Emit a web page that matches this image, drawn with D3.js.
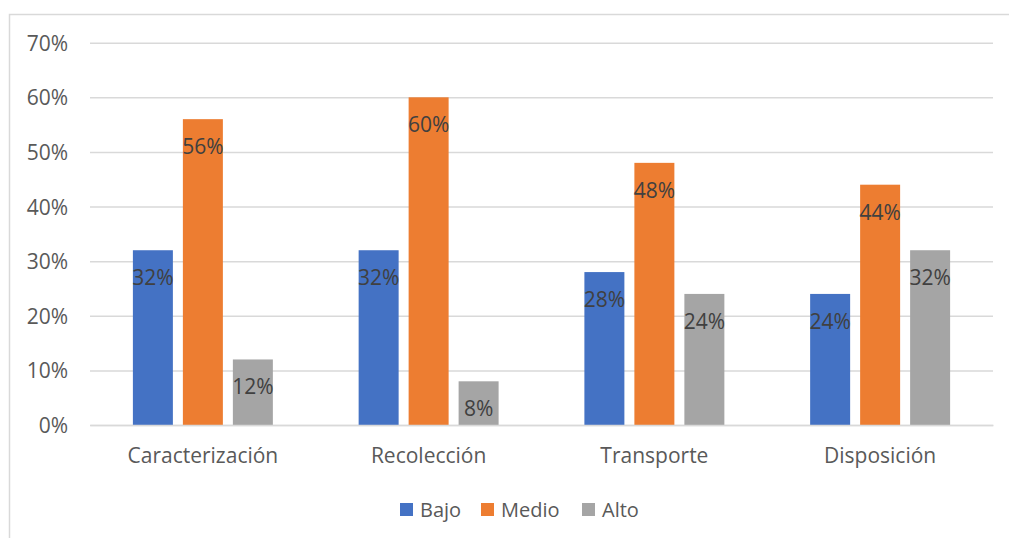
<!DOCTYPE html>
<html><head><meta charset="utf-8">
<script src="https://cdn.jsdelivr.net/npm/d3@7/dist/d3.min.js"></script>
<style>body{margin:0;background:#fff;}svg{display:block;}</style>
</head><body>
<svg id="c" width="1009" height="538"></svg>
<script>
const categories = ["Caracterización","Recolección","Transporte","Disposición"];
const seriesNames = ["Bajo","Medio","Alto"];
const bajo = [0.32,0.32,0.28,0.24];
const medio = [0.56,0.60,0.48,0.44];
const alto = [0.12,0.08,0.24,0.32];
const yTicks = [0,0.1,0.2,0.3,0.4,0.5,0.6,0.7];
const colors = ["#4472C4","#ED7D31","#A5A5A5"];
const seriesValues = [bajo, medio, alto];

(function(){
const svg = d3.select("#c");
const font = "'Open Sans', sans-serif";
svg.append("rect").attr("x",9.5).attr("y",14.5).attr("width",1100).attr("height",600)
  .attr("fill","#fff").attr("stroke","#D9D9D9").attr("stroke-width",1.5);

const pLeft=90, pRight=993, pTop=42.7, pBottom=425;
const y = d3.scaleLinear().domain([0,0.7]).range([pBottom,pTop]);
const x0 = d3.scaleBand().domain(categories).range([pLeft,pRight]).paddingInner(0.38).paddingOuter(0.19);
const x1 = d3.scaleBand().domain(seriesNames).range([0,x0.bandwidth()]).paddingInner(0.2);

const yAxis = d3.axisLeft(y).tickValues(yTicks).tickSize(-(pRight-pLeft)).tickFormat(d3.format(".0%"));
const gy = svg.append("g").attr("transform",`translate(${pLeft},0)`).call(yAxis);
gy.select(".domain").remove();
gy.selectAll(".tick line").attr("stroke","#D9D9D9").attr("stroke-width",1.5);
gy.selectAll(".tick text").attr("x",-22).attr("dy","0.36em").attr("fill","#595959").style("font-family",font).style("font-size","21px");

const data = [];
categories.forEach((c,i)=>seriesNames.forEach((s,j)=>data.push({c,s,v:seriesValues[j][i],j})));

svg.append("g").selectAll("rect").data(data).join("rect")
  .attr("x",d=>x0(d.c)+x1(d.s)).attr("width",x1.bandwidth())
  .attr("y",d=>y(d.v)).attr("height",d=>y(0)-y(d.v)).attr("fill",d=>colors[d.j]);

svg.append("g").selectAll("text").data(data).join("text")
  .attr("x",d=>x0(d.c)+x1(d.s)+x1.bandwidth()/2).attr("y",d=>y(d.v)+35)
  .attr("text-anchor","middle").attr("fill","#404040")
  .style("font-family",font).style("font-size","21px")
  .text(d=>d3.format(".0%")(d.v));

const xAxis = d3.axisBottom(x0).tickSize(0).tickPadding(0);
const gx = svg.append("g").attr("transform",`translate(0,${pBottom})`).call(xAxis);
gx.select(".domain").attr("stroke","#D9D9D9").attr("stroke-width",1.5);
gx.selectAll(".tick text").attr("y",38).attr("dy",0).attr("fill","#595959").style("font-family",font).style("font-size","21px");

const legX = [400,481,582];
const lg = svg.append("g").selectAll("g").data(seriesNames).join("g")
  .attr("transform",(d,i)=>`translate(${legX[i]},503)`);
lg.append("rect").attr("width",13).attr("height",13).attr("fill",(d,i)=>colors[i]);
lg.append("text").attr("x",20).attr("y",14).attr("fill","#595959")
  .style("font-family",font).style("font-size","20px").text(d=>d);
})();
</script>
</body></html>
